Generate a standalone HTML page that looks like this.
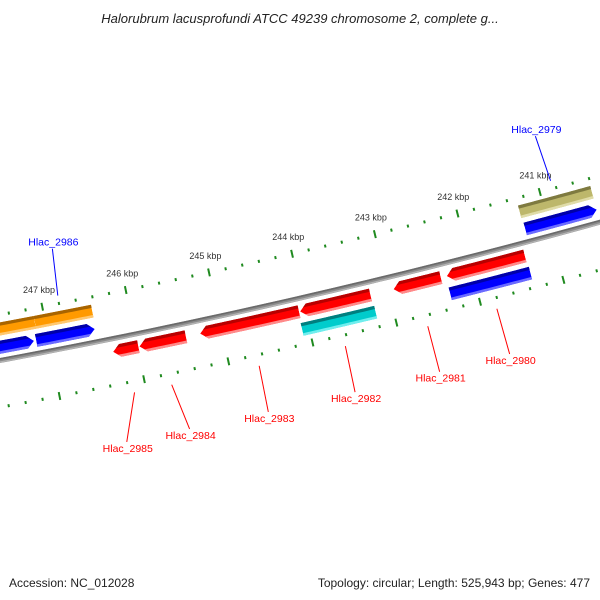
<!DOCTYPE html>
<html><head><meta charset="utf-8"><style>
html,body{margin:0;padding:0;background:#fff}
svg{display:block}
text{font-family:"Liberation Sans","DejaVu Sans",sans-serif}
</style></head><body>
<svg id="map" width="600" height="600" viewBox="0 0 600 600" xmlns="http://www.w3.org/2000/svg">
<rect width="600" height="600" fill="#fff"/>
<defs id="defs"></defs>
<g id="rings"></g>
<g id="backbone"></g>
<g id="features"></g>
<g id="labels"></g>
<text x="300" y="23" text-anchor="middle" font-size="13" font-style="italic" fill="#222">Halorubrum lacusprofundi ATCC 49239 chromosome 2, complete g...</text>
<text x="9" y="587" font-size="12" fill="#222">Accession: NC_012028</text>
<text x="590" y="587" text-anchor="end" font-size="12" fill="#222">Topology: circular; Length: 525,943 bp; Genes: 477</text>
</svg>
<script>
const genomeLength = 525943;
const featStart = [247120, 246434, 247170, 246446, 240410, 240410, 245988, 245422, 244072, 243217, 242373, 241361, 243205, 241349];
const featEnd   = [249500, 247120, 249500, 247145, 241289, 241277, 246289, 245976, 245253, 244060, 242940, 242301, 244084, 242313];
const featRow   = [-2, -2, -1, -1, -2, -1, 1, 1, 1, 1, 1, 1, 2, 2];
const featColor = ["orange","orange","blue","blue","khaki","blue","red","red","red","red","red","red","cyan","blue"];
const featArrow = ["none","none","right","right","none","right","left","left","left","left","left","left","none","none"];
const labelNames = ["Hlac_2986","Hlac_2979","Hlac_2985","Hlac_2984","Hlac_2983","Hlac_2982","Hlac_2981","Hlac_2980"];
const labelFeature = [3, 5, 6, 7, 8, 9, 10, 11];
const labelEndBp = [246752, 240879, 246340, 245602, 244675, 243651, 242650, 241819];
const tickStartBp = 238000, tickEndBp = 251000, tickStep = 200, majorStep = 1000;

const R = 7170, CX = -1309, CY = -6689;
const rowOffset = {"-2": -31, "-1": -13, "1": 13, "2": 31};
const palette = {
  red: ["#ff0000", "#b80000", "#ff8a8a"],
  blue: ["#0000ff", "#0000a8", "#6b6bff"],
  orange: ["#ff9a00", "#a86400", "#ffc870"],
  khaki: ["#bdb76b", "#7e7a40", "#e0dca8"],
  cyan: ["#00cccc", "#007f7f", "#70eeee"]
};
const NS = "http://www.w3.org/2000/svg";
function pt(bp, r){ const t = bp/genomeLength*2*Math.PI; return [CX + r*Math.sin(t), CY - r*Math.cos(t)]; }
function mk(tag, attrs){ const e = document.createElementNS(NS, tag); for (const k in attrs) e.setAttribute(k, attrs[k]); return e; }
function arcPts(b1, b2, r, n){ const a=[]; for(let i=0;i<=n;i++){ a.push(pt(b1+(b2-b1)*i/n, r)); } return a; }
function ptsStr(a){ return a.map(p=>p[0].toFixed(2)+","+p[1].toFixed(2)).join(" "); }

// ruler rings
const rings = document.getElementById("rings");
[-45, 46].forEach((off, ri) => {
  for (let bp = tickStartBp; bp <= tickEndBp; bp += tickStep) {
    const major = bp % majorStep === 0;
    const len = major ? 4 : 1.5;
    const a = pt(bp, R+off-len), b = pt(bp, R+off+len);
    const ln = mk("line", {x1:a[0], y1:a[1], x2:b[0], y2:b[1], stroke:"#1f8a1f", "stroke-width": 2});
    
    
    rings.appendChild(ln);
    if (major && ri === 0) {
      const p = pt(bp, R+off-17);
      const t = mk("text", {x:p[0], y:p[1]+3, "text-anchor":"middle", "font-size":"9", fill:"#333"});
      t.textContent = (bp/1000) + " kbp";
      
      
      rings.appendChild(t);
    }
  }
});

// backbone
const bbg = document.getElementById("backbone");
[[0,5,"#8a8a8a"],[-1.6,1.6,"#6a6a6a"],[1.6,1.4,"#b4b4b4"]].forEach(s=>{
  const pl = mk("polyline", {points: ptsStr(arcPts(tickStartBp, tickEndBp, R+s[0], 60)), fill:"none", stroke:s[2], "stroke-width":s[1]});
  
  
  bbg.appendChild(pl);
});

// features
const fg = document.getElementById("features");
const defs = document.getElementById("defs");
const headBp = 85, h = 6.5;
featStart.forEach((s, i) => {
  const e = featEnd[i], r = R + rowOffset[featRow[i]], col = palette[featColor[i]];
  let poly;
  if (featArrow[i] === "left") {
    poly = arcPts(s, e-headBp, r-h, 30).concat([pt(e, r)]).concat(arcPts(e-headBp, s, r+h, 30));
  } else if (featArrow[i] === "right") {
    poly = [pt(s, r)].concat(arcPts(s+headBp, e, r-h, 30)).concat(arcPts(e, s+headBp, r+h, 30));
  } else {
    poly = arcPts(s, e, r-h, 30).concat(arcPts(e, s, r+h, 30));
  }
  const cp = mk("clipPath", {id:"clip"+i});
  cp.appendChild(mk("polygon", {points: ptsStr(poly)}));
  defs.appendChild(cp);
  const g = mk("g", {"clip-path":"url(#clip"+i+")"});
  
  
  const base = mk("polygon", {points: ptsStr(poly), fill: col[0]});
  
  
  g.appendChild(base);
  const dark = mk("polyline", {points: ptsStr(arcPts(s-200, e+200, r-h+1.5, 30)), fill:"none", stroke: col[1], "stroke-width": 3.5});
  
  
  g.appendChild(dark);
  const light = mk("polyline", {points: ptsStr(arcPts(s-200, e+200, r+h-1.2, 30)), fill:"none", stroke: col[2], "stroke-width": 2.8});
  
  
  g.appendChild(light);
  fg.appendChild(g);
});

// labels
const lg = document.getElementById("labels");
labelNames.forEach((name, i) => {
  const fi = labelFeature[i];
  const mid = (featStart[fi] + featEnd[fi]) / 2;
  const upper = featRow[fi] < 0;
  const color = upper ? "#0000ff" : "#ff0000";
  const r1 = upper ? R-53 : R+57, r2 = upper ? R-100 : R+104;
  const a = pt(mid, r1), b = pt(labelEndBp[i], r2);
  const ln = mk("line", {x1:a[0], y1:a[1], x2:b[0], y2:b[1], stroke: color, "stroke-width": 1});
  
  
  lg.appendChild(ln);
  const t = mk("text", {x: b[0]+1, y: upper ? b[1]-3 : b[1]+10, "text-anchor":"middle", "font-size":"10.5", fill: color});
  t.textContent = name;
  
  
  lg.appendChild(t);
});
</script>
</body></html>
